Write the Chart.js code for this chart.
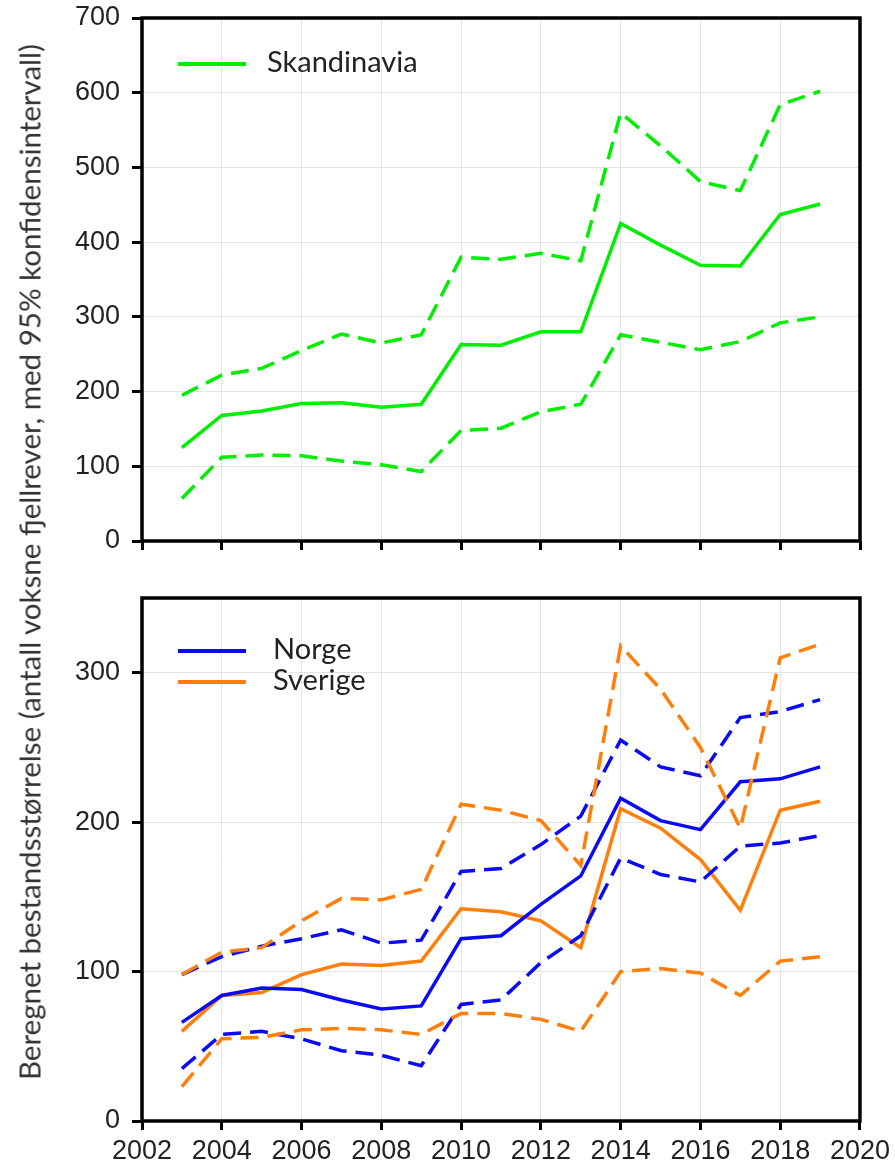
<!DOCTYPE html>
<html>
<head>
<meta charset="utf-8">
<script src="https://cdn.jsdelivr.net/npm/chart.js@4.4.1/dist/chart.umd.min.js"></script>
<style>
  html, body { margin: 0; padding: 0; background: #fff; }
  #wrap { position: relative; width: 895px; height: 1173px; overflow: hidden; }
  #c1 { position: absolute; left: 0; top: 0; }
  #c2 { position: absolute; left: 0; top: 575px; }
  #ytitle {
    position: absolute; left: 29px; top: 562px;
    transform: translate(-50%, -50%) rotate(-90deg);
    white-space: nowrap; font: 29.5px Lato, sans-serif; color: #333;
  }
</style>
</head>
<body>
<div id="wrap">
  <canvas id="c1" width="895" height="575"></canvas>
  <canvas id="c2" width="895" height="598"></canvas>
  <div id="ytitle">Beregnet bestandsstørrelse (antall voksne fjellrever, med 95% konfidensintervall)</div>
</div>
<script>
// Survey years
const years = [2003, 2004, 2005, 2006, 2007, 2008, 2009, 2010, 2011, 2012, 2013, 2014, 2015, 2016, 2017, 2018, 2019];

// Scandinavia: estimate with 95% confidence limits
const skandinavia      = [125, 168, 174, 184, 185, 179, 183, 263, 262, 280, 280, 425, 396, 369, 368, 437, 451];
const skandinaviaUpper = [195, 222, 231, 255, 277, 265, 276, 380, 377, 385, 375, 573, 529, 481, 469, 584, 602];
const skandinaviaLower = [57, 112, 115, 114, 107, 102, 93, 148, 151, 173, 183, 276, 266, 256, 267, 292, 300];

// Norway
const norge      = [66, 84, 89, 88, 81, 75, 77, 122, 124, 145, 164, 216, 201, 195, 227, 229, 237];
const norgeUpper = [98, 110, 117, 122, 128, 119, 121, 167, 169, 185, 204, 255, 237, 231, 270, 274, 282];
const norgeLower = [35, 58, 60, 55, 47, 44, 37, 78, 81, 106, 124, 176, 165, 160, 184, 186, 191];

// Sweden
const sverige      = [60, 84, 86, 98, 105, 104, 107, 142, 140, 134, 116, 209, 196, 175, 141, 208, 214];
const sverigeUpper = [98, 113, 116, 134, 149, 148, 155, 212, 208, 201, 171, 318, 289, 250, 196, 310, 319];
const sverigeLower = [23, 55, 56, 61, 62, 61, 58, 72, 72, 68, 60, 100, 102, 99, 84, 107, 110];

// Axis ticks
const xTickValues = [2002, 2004, 2006, 2008, 2010, 2012, 2014, 2016, 2018, 2020];
const topYTicks = [0, 100, 200, 300, 400, 500, 600, 700];
const bottomYTicks = [0, 100, 200, 300];

const GREEN = '#00ee00', BLUE = '#0a0af5', ORANGE = '#ff7f0a';
const DASH = [18, 9];

function pts(values) { return values.map((v, i) => ({ x: years[i], y: v })); }

function series(values, color, dashed, legendText) {
  return {
    data: pts(values),
    borderColor: color,
    backgroundColor: color,
    borderWidth: 3.5,
    borderDash: dashed ? DASH : [],
    pointRadius: 0,
    tension: 0,
    fill: false,
    legendText: legendText || null
  };
}

// Black frame around the plot area
const frame = {
  id: 'frame',
  afterDraw(chart) {
    const { ctx, chartArea: a } = chart;
    ctx.save();
    ctx.strokeStyle = '#000';
    ctx.lineWidth = 3.5;
    ctx.strokeRect(a.left, a.top, a.right - a.left, a.bottom - a.top);
    ctx.restore();
  }
};

// Legend drawn inside the plot area, one row per solid series
const insideLegend = {
  id: 'insideLegend',
  afterDatasetsDraw(chart, args, o) {
    const { ctx, chartArea: a } = chart;
    ctx.save();
    let row = 0;
    chart.data.datasets.forEach(ds => {
      if (!ds.legendText) return;
      const y = a.top + o.rowTop + row * o.rowGap;
      ctx.strokeStyle = ds.borderColor;
      ctx.lineWidth = 4;
      ctx.setLineDash([]);
      ctx.beginPath();
      ctx.moveTo(a.left + o.lineFrom, y);
      ctx.lineTo(a.left + o.lineTo, y);
      ctx.stroke();
      ctx.fillStyle = '#222';
      ctx.font = '29px Lato, sans-serif';
      ctx.textBaseline = 'middle';
      ctx.textAlign = 'left';
      ctx.fillText(ds.legendText, a.left + o.textAt, y - 1);
      row++;
    });
    ctx.restore();
  }
};

function makeOptions(yMax, yTicks, showXLabels, xAxisHeight, padTop, legendOpts) {
  const tickFont = { family: '"Liberation Sans", Arial, sans-serif', size: 27 };
  return {
    responsive: false,
    animation: false,
    devicePixelRatio: 1,
    layout: { autoPadding: false, padding: { top: padTop, right: 35, left: 0, bottom: 0 } },
    plugins: {
      legend: { display: false },
      tooltip: { enabled: false },
      insideLegend: legendOpts
    },
    scales: {
      x: {
        type: 'linear',
        min: 2002, max: 2020,
        afterBuildTicks: s => { s.ticks = xTickValues.map(v => ({ value: v })); },
        afterFit: s => { s.height = xAxisHeight; },
        grid: { color: '#e4e4e4', lineWidth: 1, drawTicks: true, tickLength: 9, tickColor: '#000', tickWidth: 3 },
        border: { display: false },
        ticks: { display: showXLabels, font: tickFont, color: '#222', padding: 5, maxRotation: 0, autoSkip: false, callback: v => String(v) }
      },
      y: {
        type: 'linear',
        min: 0, max: yMax,
        afterBuildTicks: s => { s.ticks = yTicks.map(v => ({ value: v })); },
        afterFit: s => { s.width = 142; s.paddingTop = 0; s.paddingBottom = 0; },
        grid: { color: '#e4e4e4', lineWidth: 1, drawTicks: true, tickLength: 10, tickColor: '#000', tickWidth: 3 },
        border: { display: false },
        ticks: { font: tickFont, color: '#222', padding: 12, callback: v => String(v) }
      }
    }
  };
}

new Chart(document.getElementById('c1'), {
  type: 'line',
  data: {
    datasets: [
      series(skandinaviaUpper, GREEN, true),
      series(skandinaviaLower, GREEN, true),
      series(skandinavia, GREEN, false, 'Skandinavia')
    ]
  },
  options: makeOptions(700, topYTicks, false, 34, 18,
    { lineFrom: 36, lineTo: 104, textAt: 125, rowTop: 46, rowGap: 31 }),
  plugins: [frame, insideLegend]
});

new Chart(document.getElementById('c2'), {
  type: 'line',
  data: {
    datasets: [
      series(sverigeUpper, ORANGE, true),
      series(sverigeLower, ORANGE, true),
      series(norgeUpper, BLUE, true),
      series(norgeLower, BLUE, true),
      series(norge, BLUE, false, 'Norge'),
      series(sverige, ORANGE, false, 'Sverige')
    ]
  },
  options: makeOptions(350, bottomYTicks, true, 52, 23,
    { lineFrom: 36, lineTo: 104, textAt: 131, rowTop: 53, rowGap: 31 }),
  plugins: [frame, insideLegend]
});
</script>
</body>
</html>
